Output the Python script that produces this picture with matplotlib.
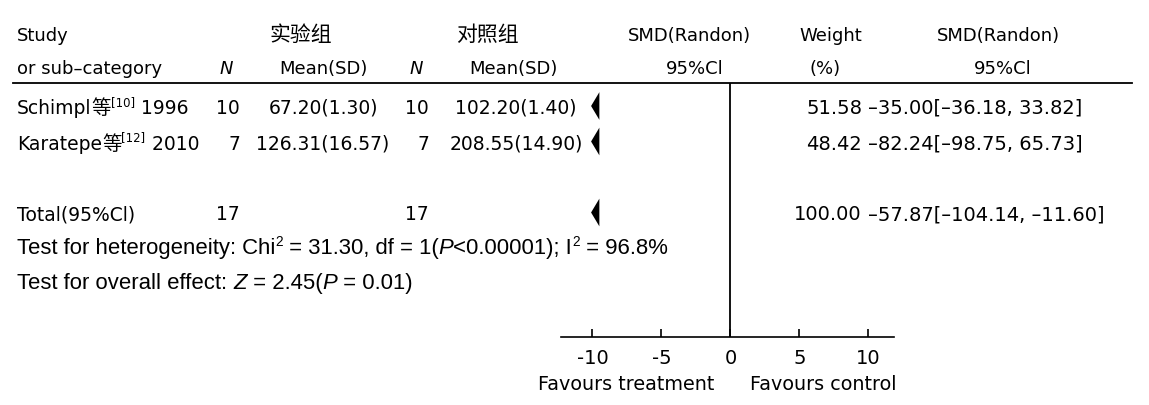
import matplotlib
matplotlib.use("Agg")
import matplotlib.pyplot as plt
from matplotlib.lines import Line2D
from matplotlib.patches import Polygon

# ---------------- data ----------------
study_names = ["Schimpl等", "Karatepe等"]
study_refs = ["[10]", "[12]"]
study_years = ["1996", "2010"]
n_exp = [10, 7]
mean_exp = [67.20, 126.31]
sd_exp = [1.30, 16.57]
n_ctrl = [10, 7]
mean_ctrl = [102.20, 208.55]
sd_ctrl = [1.40, 14.90]
weights = [51.58, 48.42]
smd = [-35.00, -82.24]
ci_low = [-36.18, -98.75]
ci_high = [33.82, 65.73]  # as printed in the source table

total_label = "Total(95%Cl)"
total_n_exp = 17
total_n_ctrl = 17
total_weight = 100.00
total_smd = -57.87
total_ci_low = -104.14
total_ci_high = -11.60

chi2 = 31.30
df_val = 1
het_p = "<0.00001"
i2 = 96.8
z_val = 2.45
z_p = 0.01

x_ticks = [-10, -5, 0, 5, 10]
x_tick_labels = ["-10", "-5", "0", "5", "10"]

# ---------------- style ----------------
W, H = 1149, 406
FS_HEAD = 13
FS = 13.5
FS_NUM = 14
FS_CJK = 15
FS_CJK_ROW = 14
FS_HET = 15.9
FAM = ["DejaVu Sans", "Noto Sans CJK SC"]
FAM_CJK = ["Noto Sans CJK SC", "DejaVu Sans"]
FAM_HET = ["Liberation Sans", "DejaVu Sans"]
plt.rcParams["font.family"] = FAM

fig = plt.figure(figsize=(W / 100, H / 100), dpi=100)
fig.patch.set_facecolor("white")
renderer = fig.canvas.get_renderer()


def fx(px):
    return px / W


def fy(py):
    return 1 - py / H


def width_of(s, size, style, fam):
    t = fig.text(0, 0, s, fontsize=size, style=style, family=fam)
    w = t.get_window_extent(renderer).width
    t.remove()
    return w


def runs(x, base, parts, size=FS, fam=FAM, ha="left", sup_dy=7):
    """parts: list of (text, kind) kind in {'n','i','sup','cjk'}; base = baseline px"""
    specs = []
    for s, kind in parts:
        sz, st, fm = size, "normal", fam
        if kind == "i":
            st = "italic"
        if kind == "sup":
            sz = size * 0.62
        if kind == "cjk":
            sz = FS_CJK_ROW
            fm = FAM_CJK
        specs.append((s, kind, sz, st, fm, width_of(s, sz, st, fm)))
    total = sum(sp[5] for sp in specs)
    if ha == "right":
        x = x - total
    elif ha == "center":
        x = x - total / 2
    for s, kind, sz, st, fm, w in specs:
        yy = base - sup_dy if kind == "sup" else base
        fig.text(fx(x), fy(yy), s, fontsize=sz, style=st, family=fm,
                 ha="left", va="baseline")
        x += w


def txt(x, base, s, ha="left", size=FS, fam=FAM, **kw):
    fig.text(fx(x), fy(base), s, ha=ha, va="baseline", fontsize=size, family=fam, **kw)


def num(v):
    return f"{v:.2f}".replace("-", "–")


# ---------------- header ----------------
B_H1, B_H2 = 41, 74
txt(17, B_H1, "Study", size=FS_HEAD)
txt(17, B_H2, "or sub–category", size=FS_HEAD)
txt(301, B_H1, "实验组", ha="center", size=FS_CJK, fam=FAM_CJK)
txt(487, B_H1, "对照组", ha="center", size=FS_CJK, fam=FAM_CJK)
txt(226, B_H2, "N", ha="center", style="italic", size=FS_HEAD)
txt(323, B_H2, "Mean(SD)", ha="center", size=FS_HEAD)
txt(416, B_H2, "N", ha="center", style="italic", size=FS_HEAD)
txt(513, B_H2, "Mean(SD)", ha="center", size=FS_HEAD)
txt(689, B_H1, "SMD(Randon)", ha="center", size=FS_HEAD)
txt(695, B_H2, "95%Cl", ha="center", size=FS_HEAD)
txt(831, B_H1, "Weight", ha="center", size=FS_HEAD)
txt(825, B_H2, "(%)", ha="center", size=FS_HEAD)
txt(998, B_H1, "SMD(Randon)", ha="center", size=FS_HEAD)
txt(1003, B_H2, "95%Cl", ha="center", size=FS_HEAD)

fig.add_artist(Line2D([fx(13), fx(1132)], [fy(83.5), fy(83.5)], color="black", lw=1.3))

# ---------------- rows ----------------
ROW0, ROW_STEP = 107, 35.5      # cap-centre of first row and row spacing (px)
CAP_OFF = 7                     # baseline below cap centre (px)
for i in range(len(study_names)):
    b = ROW0 + ROW_STEP * i + CAP_OFF
    name = study_names[i]
    runs(17, b, [(name[:-1], "n"), (name[-1], "cjk"), (study_refs[i], "sup"),
                 (" " + study_years[i], "n")], sup_dy=8)
    txt(240, b, str(n_exp[i]), ha="right")
    txt(323, b, f"{mean_exp[i]:.2f}({sd_exp[i]:.2f})", ha="center")
    txt(429, b, str(n_ctrl[i]), ha="right")
    txt(516, b, f"{mean_ctrl[i]:.2f}({sd_ctrl[i]:.2f})", ha="center")
    txt(862, b, f"{weights[i]:.2f}", ha="right", size=FS_NUM)
    txt(868, b, f"{num(smd[i])}[{num(ci_low[i])}, {num(ci_high[i])}]", size=FS_NUM)

b_tot = ROW0 + ROW_STEP * 3 + CAP_OFF
txt(17, b_tot, total_label)
txt(240, b_tot, str(total_n_exp), ha="right")
txt(429, b_tot, str(total_n_ctrl), ha="right")
txt(862, b_tot, f"{total_weight:.2f}", ha="right", size=FS_NUM)
txt(868, b_tot, f"{num(total_smd)}[{num(total_ci_low)}, {num(total_ci_high)}]", size=FS_NUM)

b_het = 254
runs(17, b_het, [("Test for heterogeneity: Chi", "n"), ("2", "sup"),
                 (f" = {chi2:.2f}, df = {df_val}(", "n"), ("P", "i"),
                 (f"{het_p}); I", "n"), ("2", "sup"), (f" = {i2:.1f}%", "n")],
     size=FS_HET, fam=FAM_HET, sup_dy=8)
b_ov = 289
runs(17, b_ov, [("Test for overall effect: ", "n"), ("Z", "i"),
                (f" = {z_val:.2f}(", "n"), ("P", "i"), (f" = {z_p:.2f})", "n")],
     size=FS_HET, fam=FAM_HET)

# ---------------- forest axes ----------------
ax_left, ax_right = 561, 894
ax_top, ax_bot = 83.5, 338
ax = fig.add_axes([fx(ax_left), fy(ax_bot), (ax_right - ax_left) / W, (ax_bot - ax_top) / H])
ax.set_xlim(-12.28, 11.85)
row_top = (ax_top - ROW0) / ROW_STEP
row_bot = (ax_bot - ROW0) / ROW_STEP
ax.set_ylim(row_bot, row_top)
for sp in ["top", "left", "right"]:
    ax.spines[sp].set_visible(False)
ax.spines["bottom"].set_linewidth(1.2)
ax.set_yticks([])
ax.set_xticks(x_ticks)
ax.set_xticklabels(x_tick_labels, family="DejaVu Sans", fontsize=14)
ax.tick_params(axis="x", direction="in", length=6, width=1.2, pad=8)
ax.axvline(0, color="black", lw=1.3)
ax.patch.set_alpha(0)

ARROW_TIP = -10.1
ARROW_W = 0.6
ARROW_HH = 0.39


def arrow(yrow, value):
    x0 = max(value, ARROW_TIP)
    poly = Polygon([(x0, yrow), (x0 + ARROW_W, yrow - ARROW_HH), (x0 + ARROW_W, yrow + ARROW_HH)],
                   closed=True, color="black", lw=0)
    ax.add_patch(poly)


for i in range(len(smd)):
    arrow(i, smd[i])
arrow(3, total_smd)

txt(714, 390, "Favours treatment", ha="right", size=13.8, fam=["DejaVu Sans"])
txt(750, 390, "Favours control", ha="left", size=13.8, fam=["DejaVu Sans"])

fig.savefig("out.png", dpi=100, facecolor="white")
